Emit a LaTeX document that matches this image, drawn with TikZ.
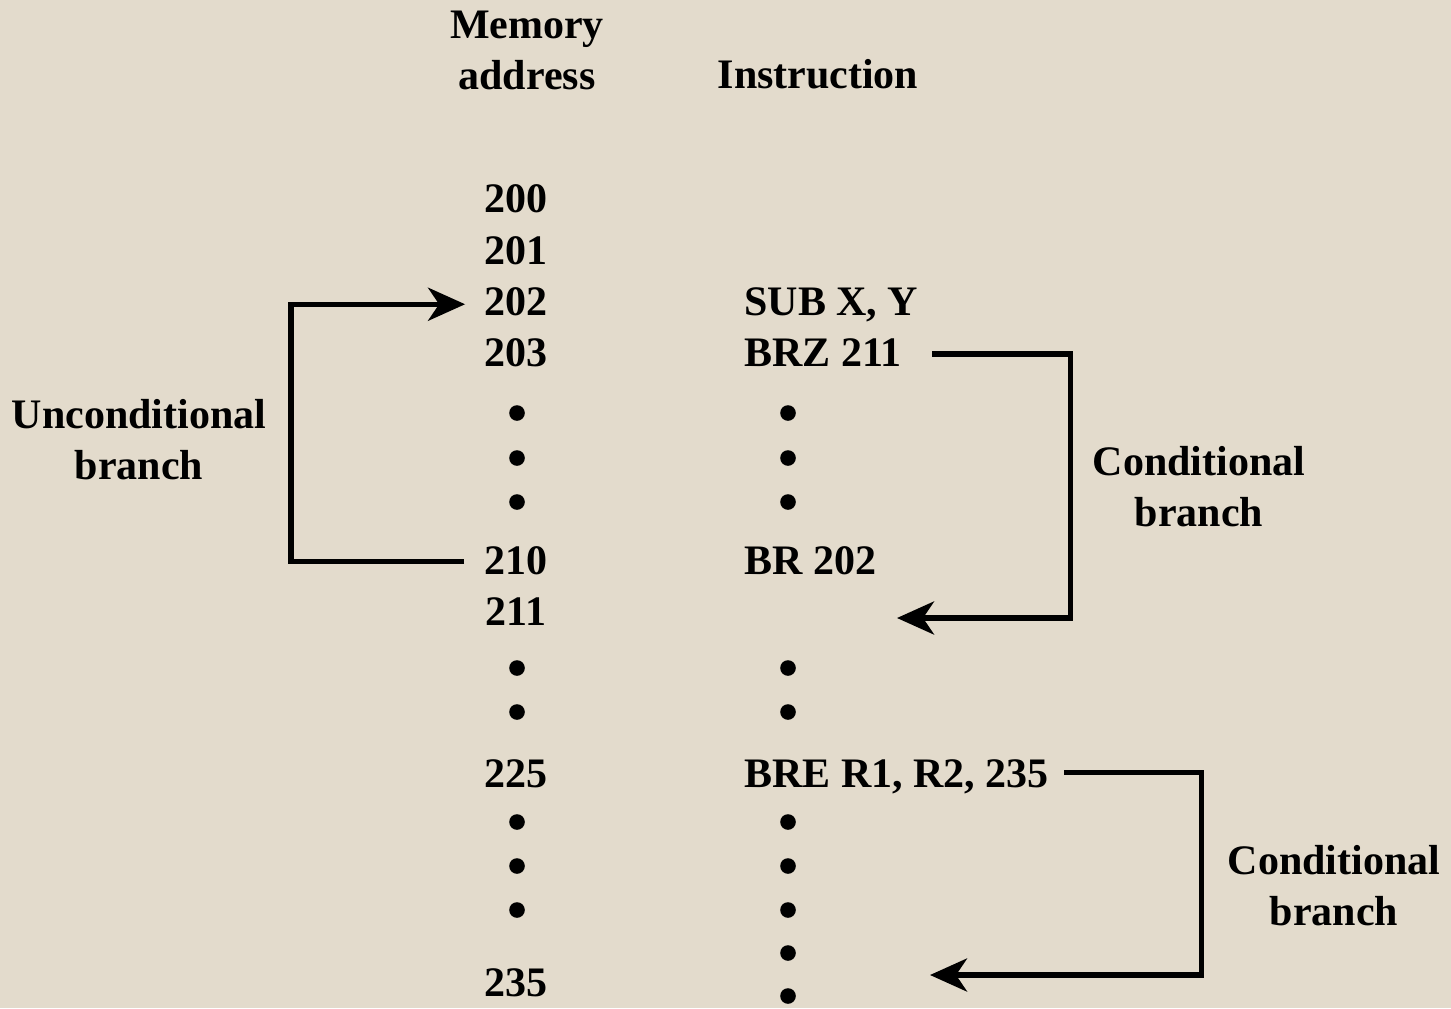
\documentclass[tikz,border=0pt]{standalone}
\usepackage{fontspec}
\setmainfont{Liberation Serif}
\usetikzlibrary{arrows.meta}
\definecolor{bg}{RGB}{227,219,204}
\begin{document}
\begin{tikzpicture}[x=0.5pt,y=-0.5pt,
  txt/.style={font=\fontsize{21}{25.5}\selectfont\bfseries,inner sep=0pt},
  num/.style={txt,anchor=base},
  ins/.style={txt,anchor=base west},
  lbl/.style={txt,align=center},
  dot/.style={circle,fill=black,inner sep=0pt,minimum size=7.8pt},
  conn/.style={line width=2.7pt,-{Stealth[length=18.5pt,width=16.5pt,inset=5.5pt]}}]
\useasboundingbox (0,0) rectangle (1451,1008);
\fill[bg] (0,0) rectangle (1451,1008);
% headings
\node[lbl] (hmem) at (527,50) {Memory\\address};
\node[num] (hins) at (818,88) {Instruction};
% addresses
\node[num] (a200) at (516,212) {200};
\node[num] (a201) at (516,264) {201};
\node[num] (a202) at (516,315) {202};
\node[num] (a203) at (516,366) {203};
\node[dot] (ad1) at (517,413) {};
\node[dot] (ad2) at (517,458) {};
\node[dot] (ad3) at (517,502) {};
\node[num] (a210) at (516,574) {210};
\node[num] (a211) at (516,625) {211};
\node[dot] (ad4) at (517,668) {};
\node[dot] (ad5) at (517,712) {};
\node[num] (a225) at (516,787) {225};
\node[dot] (ad6) at (517,822) {};
\node[dot] (ad7) at (517,866) {};
\node[dot] (ad8) at (517,910) {};
\node[num] (a235) at (516,996) {235};
% instructions
\node[ins] (sub) at (744,315) {SUB X, Y};
\node[ins] (brz) at (744,366) {BRZ 211};
\node[dot] (id1) at (788,413) {};
\node[dot] (id2) at (788,458) {};
\node[dot] (id3) at (788,502) {};
\node[ins] (br) at (744,574) {BR 202};
\node[dot] (id4) at (788,668) {};
\node[dot] (id5) at (788,712) {};
\node[ins] (bre) at (744,787) {BRE R1, R2, 235};
\node[dot] (id6) at (788,822) {};
\node[dot] (id7) at (788,866) {};
\node[dot] (id8) at (788,910) {};
\node[dot] (id9) at (788,953) {};
\node[dot] (id10) at (788,996) {};
% labels
\node[lbl] (lunc) at (139,440) {Unconditional\\branch};
\node[lbl] (lc1) at (1199,487) {Conditional\\branch};
\node[lbl] (lc2) at (1334,886) {Conditional\\branch};
% connectors
\coordinate (t1) at (897,618);
\coordinate (t2) at (930,975);
\draw[conn] ([xshift=-10pt,yshift=-0.5pt]a210.west) -- ++(-173,0) |- ([xshift=-9.5pt,yshift=-1.5pt]a202.west);
\draw[conn] ([xshift=15pt,yshift=-1pt]brz.east) -- ++(138,0) |- (t1);
\draw[conn] ([xshift=7.5pt,yshift=2pt]bre.east) -- ++(137,0) |- (t2);
\end{tikzpicture}
\end{document}
